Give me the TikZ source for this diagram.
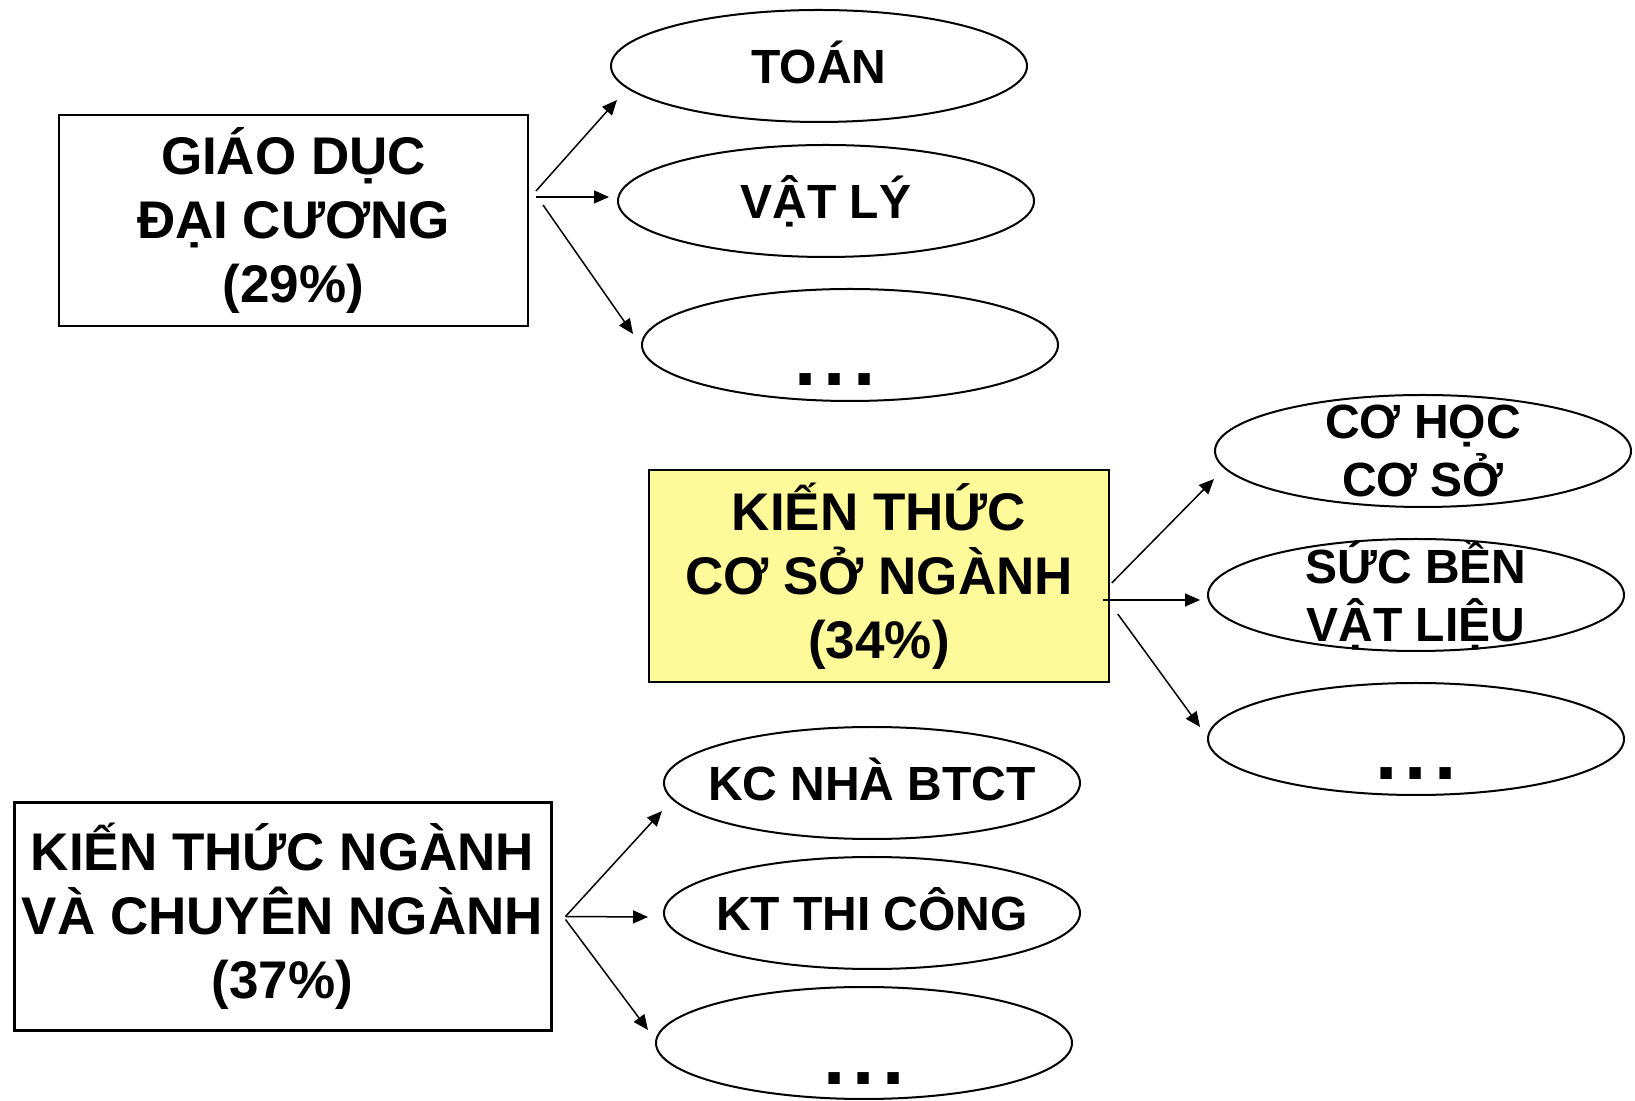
\documentclass[tikz,border=0pt]{standalone}
\usepackage{fontspec}
\setmainfont{Liberation Sans}
\usetikzlibrary{shapes.geometric,arrows.meta}
\newcommand{\lowdots}[1][0pt]{\smash{\makebox[0pt]{\kern#1\raisebox{-41pt}{\fontsize{80}{80}\selectfont.\kern7.3pt.\kern7.3pt.}\kern-#1}}}

\begin{document}
\begin{tikzpicture}[x=1pt,y=1pt,
  khoi/.style={draw,rectangle,inner sep=0pt,align=center,font=\bfseries\fontsize{53}{64}\selectfont},
  mon/.style={draw,ellipse,line width=2pt,minimum width=416pt,minimum height=112pt,inner sep=-20pt,align=center,font=\bfseries\fontsize{48}{58}\selectfont},
  motdong/.style={text height=34.5pt,text depth=0pt},
  muiten/.style={line width=1.5pt,-{Triangle[length=15pt,width=13pt]}}]
\draw[draw=none] (0,0) rectangle (1635,1098);
\node[khoi,line width=2pt,minimum width=469pt,minimum height=211pt] (gd) at (293.5,877.5) {GIÁO DỤC\\ĐẠI CƯƠNG\\(29\%)};
\node[khoi,line width=1.5pt,fill=yellow!40,minimum width=460pt,minimum height=212pt] (cs) at (879,522) {KIẾN THỨC\\CƠ SỞ NGÀNH\\(34\%)};
\node[khoi,line width=3pt,minimum width=537pt,minimum height=227pt] (cn) at (282.5,181.5) {KIẾN THỨC NGÀNH\\VÀ CHUYÊN NGÀNH\\(37\%)};
\node[mon,motdong] (toan) at (819,1032) {TOÁN};
\node[mon,motdong] (vatly) at (826,897) {VẬT LÝ};
\node[mon] (dots1) at (850,753) {\lowdots[-15pt]};
\node[mon] (cohoc) at (1423,647) {CƠ HỌC\\CƠ SỞ};
\node[mon] (sucben) at (1416,503) {SỨC BỀN\\VẬT LIỆU};
\node[mon] (dots2) at (1416,359) {\lowdots};
\node[mon,motdong] (kc) at (872,315) {KC NHÀ BTCT};
\node[mon,motdong] (kt) at (872,185) {KT THI CÔNG};
\node[mon] (dots3) at (864,55) {\lowdots};
\draw[muiten] ([shift={(7,29.5)}]gd.east) -- ([shift={(7,-34)}]toan.west);
\draw[muiten] ([shift={(7,23.5)}]gd.east) -- ([shift={(-8,4)}]vatly.west);
\draw[muiten] ([shift={(14,15.5)}]gd.east) -- ([shift={(-8,11)}]dots1.west);
\draw[muiten] ([shift={(2,-7)}]cs.east) -- ([shift={(0,-28)}]cohoc.west);
\draw[muiten] ([shift={(-7,-24)}]cs.east) -- ([shift={(-7,-5)}]sucben.west);
\draw[muiten] ([shift={(8,-38)}]cs.east) -- ([shift={(-7,12)}]dots2.west);
\draw[muiten] ([shift={(13,0)}]cn.east) -- ([shift={(-1,-28)}]kc.west);
\draw[muiten] ([shift={(13,0)}]cn.east) -- ([shift={(-15,-4)}]kt.west);
\draw[muiten] ([shift={(13,-3)}]cn.east) -- ([shift={(-7,13)}]dots3.west);
\end{tikzpicture}
\end{document}
